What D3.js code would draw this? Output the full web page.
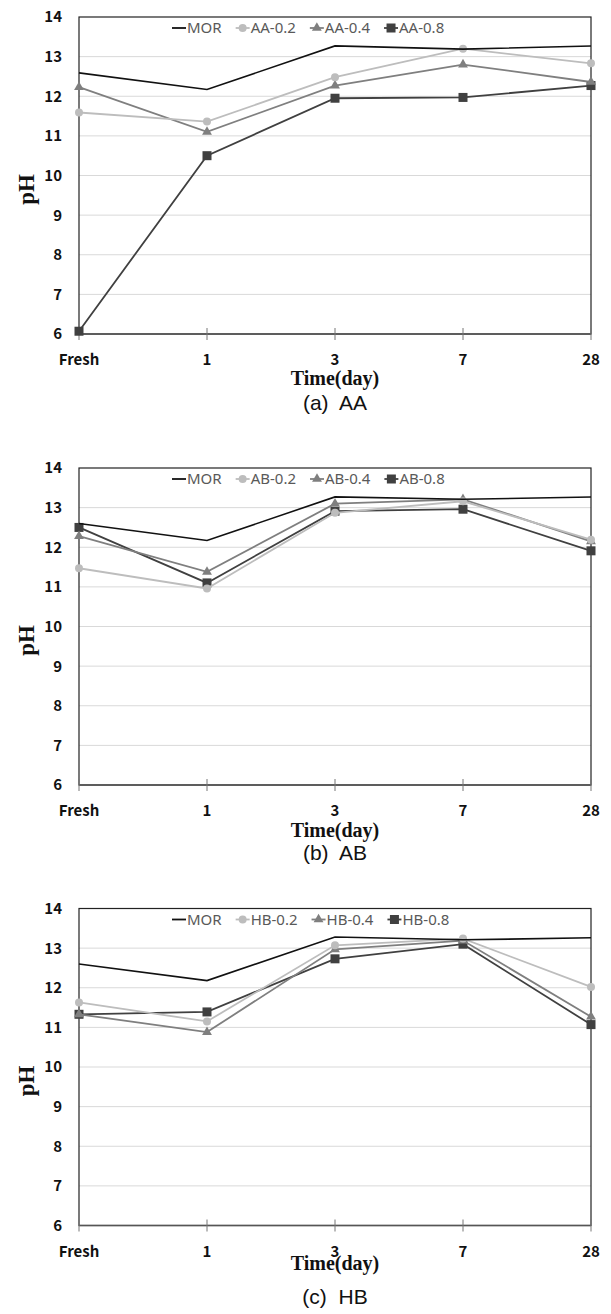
<!DOCTYPE html>
<html>
<head>
<meta charset="utf-8">
<script src="https://cdn.jsdelivr.net/npm/d3@7"></script>
<style>
  body { margin: 0; background: #fff; }
  svg { display: block; }
</style>
</head>
<body>
<script>
const days = ['Fresh', '1', '3', '7', '28'];
const yTicks = [6, 7, 8, 9, 10, 11, 12, 13, 14];

// panel (a) AA
const aaMOR = [12.59, 12.17, 13.27, 13.19, 13.27];
const aa02 = [11.59, 11.36, 12.48, 13.20, 12.83];
const aa04 = [12.23, 11.10, 12.27, 12.80, 12.36];
const aa08 = [6.07, 10.50, 11.95, 11.97, 12.27];
// panel (b) AB
const abMOR = [12.60, 12.17, 13.27, 13.21, 13.27];
const ab02 = [11.47, 10.96, 12.87, 13.16, 12.19];
const ab04 = [12.28, 11.38, 13.10, 13.21, 12.15];
const ab08 = [12.50, 11.10, 12.91, 12.96, 11.91];
// panel (c) HB
const hbMOR = [12.60, 12.18, 13.28, 13.21, 13.26];
const hb02 = [11.63, 11.15, 13.07, 13.24, 12.02];
const hb04 = [11.33, 10.88, 12.97, 13.19, 11.27];
const hb08 = [11.33, 11.39, 12.73, 13.10, 11.07];

const panels = [
    {caption: '(a)  AA', prefix: 'AA', series: [aaMOR, aa02, aa04, aa08]},
    {caption: '(b)  AB', prefix: 'AB', series: [abMOR, ab02, ab04, ab08]},
    {caption: '(c)  HB', prefix: 'HB', series: [hbMOR, hb02, hb04, hb08]}
];

// layout
const width = 611, height = 1314;
const panel_top = [17, 468, 908.5];
const plot_h = 317;
const left = 79, right = 591;
const time_dy = [368, 369, 361];
const cap_dy = [386, 385, 388];

const styles = [
    {name: 'MOR', color: '#111', marker: null},
    {name: '-0.2', color: '#bdbdbd', marker: 'circle'},
    {name: '-0.4', color: '#7f7f7f', marker: 'triangle'},
    {name: '-0.8', color: '#404040', marker: 'square'}
];

const svg = d3.select('body').append('svg')
    .attr('width', width)
    .attr('height', height);

const x = d3.scalePoint().domain(days).range([left, right]);

function drawMarker(g, type, color, cx, cy) {
    if (type === 'circle') {
        g.append('circle').attr('cx', cx).attr('cy', cy).attr('r', 4).attr('fill', color);
    } else if (type === 'triangle') {
        g.append('path')
            .attr('d', d3.symbol().type(d3.symbolTriangle).size(42)())
            .attr('transform', `translate(${cx},${cy})`)
            .attr('fill', color);
    } else if (type === 'square') {
        g.append('rect').attr('x', cx - 4.5).attr('y', cy - 4.5)
            .attr('width', 9).attr('height', 9).attr('fill', color);
    }
}

panels.forEach((p, pi) => {
    const top = panel_top[pi];
    const y = d3.scaleLinear().domain([6, 14]).range([top + plot_h, top]);
    const g = svg.append('g');

    // grid
    g.selectAll('.grid').data(yTicks.slice(1, -1)).enter()
        .append('line')
        .attr('x1', left).attr('x2', right)
        .attr('y1', d => y(d)).attr('y2', d => y(d))
        .attr('stroke', '#d9d9d9').attr('stroke-width', 1);

    // plot frame
    g.append('rect')
        .attr('x', left).attr('y', top)
        .attr('width', right - left).attr('height', plot_h)
        .attr('fill', 'none').attr('stroke', '#222').attr('stroke-width', 1.2);

    // x axis
    g.append('line')
        .attr('x1', left).attr('x2', right)
        .attr('y1', y(6)).attr('y2', y(6))
        .attr('stroke', '#555').attr('stroke-width', 1.6);
    g.selectAll('.xtick').data(days).enter()
        .append('line')
        .attr('x1', d => x(d)).attr('x2', d => x(d))
        .attr('y1', y(6) - 6).attr('y2', y(6) + 6)
        .attr('stroke', '#777').attr('stroke-width', 1);

    g.selectAll('.xlab').data(days).enter()
        .append('text')
        .attr('x', d => x(d))
        .attr('y', y(6) + 31)
        .attr('text-anchor', 'middle')
        .attr('font-family', '"Noto Sans CJK KR", "Noto Sans", sans-serif')
        .attr('font-weight', 'bold')
        .attr('font-size', 15)
        .attr('fill', '#111')
        .text(d => d);

    g.selectAll('.ylab').data(yTicks).enter()
        .append('text')
        .attr('x', 62)
        .attr('y', d => y(d))
        .attr('dy', '0.36em')
        .attr('text-anchor', 'end')
        .attr('font-family', '"Noto Sans CJK KR", "Noto Sans", sans-serif')
        .attr('font-weight', 'bold')
        .attr('font-size', 15)
        .attr('fill', '#111')
        .text(d => d);

    // axis titles
    g.append('text')
        .attr('transform', `translate(34, ${top + plot_h / 2 + 14}) rotate(-90)`)
        .attr('text-anchor', 'middle')
        .attr('font-family', '"Liberation Serif", "Times New Roman", serif')
        .attr('font-weight', 'bold')
        .attr('font-size', 23)
        .attr('fill', '#111')
        .text('pH');

    g.append('text')
        .attr('x', (left + right) / 2)
        .attr('y', top + time_dy[pi])
        .attr('text-anchor', 'middle')
        .attr('font-family', '"Liberation Serif", "Times New Roman", serif')
        .attr('font-weight', 'bold')
        .attr('font-size', 20)
        .attr('fill', '#111')
        .text('Time(day)');

    g.append('text')
        .attr('x', (left + right) / 2)
        .attr('y', top + cap_dy[pi])
        .attr('dy', '0.35em')
        .attr('text-anchor', 'middle')
        .attr('font-family', '"Liberation Sans", Arial, sans-serif')
        .attr('font-size', 21)
        .attr('fill', '#111')
        .style('white-space', 'pre')
        .text(p.caption);

    // series
    const line = d3.line().x((d, i) => x(days[i])).y(d => y(d));
    // draw from last to first so MOR ends on top like reference
    [3, 2, 1, 0].forEach(si => {
        const s = styles[si];
        const vals = p.series[si];
        g.append('path')
            .attr('d', line(vals))
            .attr('fill', 'none')
            .attr('stroke', s.color)
            .attr('stroke-width', si === 0 ? 1.6 : 1.8);
        if (s.marker) {
            vals.forEach((v, i) => drawMarker(g, s.marker, s.color, x(days[i]), y(v)));
        }
    });

    // legend
    const lg = g.append('g');
    let lx = 172;
    const ly = top + 11;
    styles.forEach((s, si) => {
        const label = si === 0 ? s.name : p.prefix + s.name;
        lg.append('line')
            .attr('x1', lx).attr('x2', lx + 14)
            .attr('y1', ly).attr('y2', ly)
            .attr('stroke', s.color).attr('stroke-width', 1.8);
        if (s.marker) drawMarker(lg, s.marker, s.color, lx + 7, ly);
        const t = lg.append('text')
            .attr('x', lx + 15)
            .attr('y', ly)
            .attr('dy', '0.36em')
            .attr('font-family', '"Noto Sans", "Liberation Sans", sans-serif')
            .attr('font-size', 15)
            .attr('fill', '#595959')
            .text(label);
        lx += 15 + t.node().getComputedTextLength() + 14;
    });
});
</script>
</body>
</html>
